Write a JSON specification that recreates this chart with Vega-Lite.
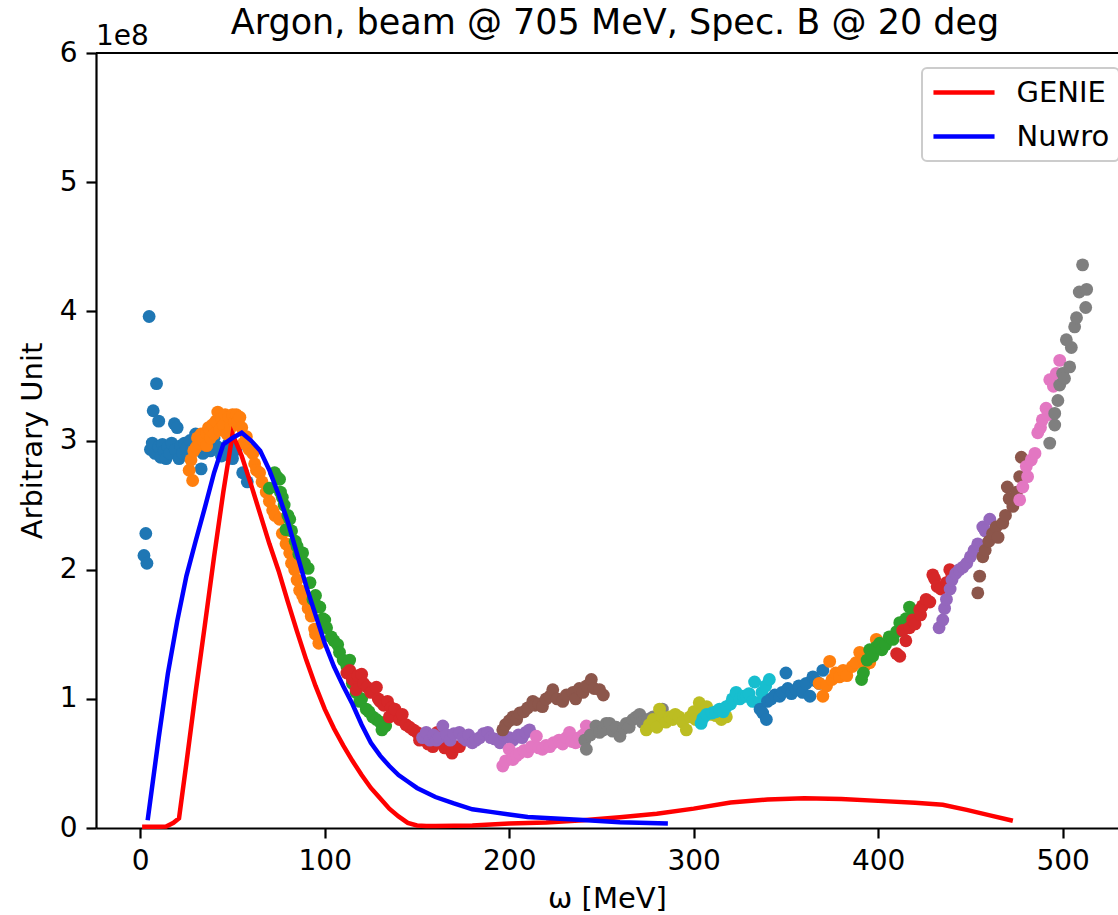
{
"$schema": "https://vega.github.io/schema/vega-lite/v6.json",
"width": 1022, "height": 775,
"autosize": {"type": "none"},
"padding": {"left": 96, "top": 53, "right": 0, "bottom": 87},
"background": "white",
"title": {"text": "Argon, beam @ 705 MeV, Spec. B @ 20 deg", "fontSize": 35, "font": "DejaVu Sans", "fontWeight": "normal", "color": "black", "anchor": "middle", "frame": "group", "baseline": "alphabetic", "offset": -46, "dx": 8},
"datasets": {
"pts": [
{"s":1,"x":2,"y":2.11},{"s":1,"x":3,"y":2.28},{"s":1,"x":3.6,"y":2.05},{"s":1,"x":4.8,"y":3.96},{"s":1,"x":5.5,"y":2.93},{"s":1,"x":7,"y":3.23},{"s":1,"x":8.8,"y":3.44},{"s":1,"x":10,"y":3.15},{"s":1,"x":6.5,"y":2.98},{"s":1,"x":8,"y":2.9},{"s":1,"x":10,"y":2.95},{"s":1,"x":11,"y":2.87},{"s":1,"x":12,"y":2.97},{"s":1,"x":13,"y":2.92},{"s":1,"x":14,"y":2.86},{"s":1,"x":15,"y":2.95},{"s":1,"x":16,"y":2.9},{"s":1,"x":17,"y":2.98},{"s":1,"x":18.5,"y":3.13},{"s":1,"x":20,"y":3.1},{"s":1,"x":19,"y":2.93},{"s":1,"x":21,"y":2.86},{"s":1,"x":22,"y":2.96},{"s":1,"x":23,"y":2.9},{"s":1,"x":24,"y":2.98},{"s":1,"x":25,"y":2.94},{"s":1,"x":26,"y":2.88},{"s":1,"x":27,"y":3.0},{"s":1,"x":28,"y":2.93},{"s":1,"x":30,"y":3.05},{"s":1,"x":31,"y":2.95},{"s":1,"x":33,"y":2.78},{"s":1,"x":34,"y":2.9},{"s":1,"x":36,"y":2.98},{"s":1,"x":38,"y":2.92},{"s":1,"x":40,"y":3.02},{"s":1,"x":42,"y":2.95},{"s":1,"x":44,"y":2.88},{"s":1,"x":46.5,"y":2.9},{"s":1,"x":48,"y":2.98},{"s":1,"x":50,"y":2.86},{"s":1,"x":52,"y":2.93},{"s":1,"x":55.5,"y":2.75},{"s":1,"x":58,"y":2.68},
{"s":2,"x":26.5,"y":2.77},{"s":2,"x":28.4,"y":2.69},{"s":2,"x":27.5,"y":2.85},{"s":2,"x":29,"y":2.92},{"s":2,"x":30.4,"y":2.95},{"s":2,"x":31,"y":3.02},{"s":2,"x":32,"y":2.98},{"s":2,"x":33,"y":3.05},{"s":2,"x":34,"y":3.0},{"s":2,"x":35.8,"y":3.06},{"s":2,"x":36,"y":2.96},{"s":2,"x":37,"y":3.1},{"s":2,"x":38,"y":3.02},{"s":2,"x":39,"y":3.12},{"s":2,"x":40,"y":3.05},{"s":2,"x":41,"y":3.15},{"s":2,"x":42,"y":3.22},{"s":2,"x":43,"y":3.08},{"s":2,"x":44,"y":3.17},{"s":2,"x":45,"y":3.12},{"s":2,"x":46,"y":3.2},{"s":2,"x":47,"y":3.05},{"s":2,"x":48,"y":3.18},{"s":2,"x":49,"y":3.1},{"s":2,"x":50,"y":3.2},{"s":2,"x":51,"y":3.14},{"s":2,"x":52,"y":3.2},{"s":2,"x":53,"y":3.15},{"s":2,"x":54,"y":3.18},{"s":2,"x":55,"y":3.1},{"s":2,"x":56,"y":2.98},{"s":2,"x":57.5,"y":3.03},{"s":2,"x":59,"y":2.93},{"s":2,"x":61,"y":2.9},{"s":2,"x":62,"y":2.82},{"s":2,"x":63,"y":2.77},{"s":2,"x":64.7,"y":2.75},{"s":2,"x":66,"y":2.68},{"s":2,"x":68.3,"y":2.6},{"s":2,"x":70,"y":2.53},{"s":2,"x":71.8,"y":2.46},{"s":2,"x":73,"y":2.42},{"s":2,"x":75.5,"y":2.39},{"s":2,"x":77,"y":2.28},{"s":2,"x":79,"y":2.2},{"s":2,"x":81,"y":2.13},{"s":2,"x":82,"y":2.05},{"s":2,"x":83.7,"y":2.0},{"s":2,"x":85,"y":1.92},{"s":2,"x":86.4,"y":1.84},{"s":2,"x":88,"y":1.8},{"s":2,"x":89,"y":1.77},{"s":2,"x":91,"y":1.7},{"s":2,"x":92.7,"y":1.64},{"s":2,"x":94.5,"y":1.54},{"s":2,"x":95,"y":1.5},{"s":2,"x":96.8,"y":1.43},
{"s":3,"x":70,"y":2.63},{"s":3,"x":72.8,"y":2.75},{"s":3,"x":74,"y":2.72},{"s":3,"x":75.5,"y":2.7},{"s":3,"x":76,"y":2.6},{"s":3,"x":77,"y":2.56},{"s":3,"x":78,"y":2.5},{"s":3,"x":79,"y":2.31},{"s":3,"x":80,"y":2.42},{"s":3,"x":81,"y":2.39},{"s":3,"x":82,"y":2.3},{"s":3,"x":84,"y":2.22},{"s":3,"x":85,"y":2.18},{"s":3,"x":86,"y":2.12},{"s":3,"x":88,"y":2.13},{"s":3,"x":89,"y":2.05},{"s":3,"x":91,"y":2.01},{"s":3,"x":92,"y":1.9},{"s":3,"x":93.6,"y":1.77},{"s":3,"x":95,"y":1.8},{"s":3,"x":96,"y":1.72},{"s":3,"x":97.3,"y":1.71},{"s":3,"x":99,"y":1.62},{"s":3,"x":100,"y":1.61},{"s":3,"x":101,"y":1.55},{"s":3,"x":103.5,"y":1.48},{"s":3,"x":105,"y":1.45},{"s":3,"x":107,"y":1.42},{"s":3,"x":108,"y":1.36},{"s":3,"x":110,"y":1.3},{"s":3,"x":112,"y":1.25},{"s":3,"x":113.5,"y":1.3},{"s":3,"x":115,"y":1.12},{"s":3,"x":117,"y":1.05},{"s":3,"x":119,"y":0.98},{"s":3,"x":120,"y":1.0},{"s":3,"x":122.5,"y":0.92},{"s":3,"x":124,"y":0.9},{"s":3,"x":126,"y":0.86},{"s":3,"x":128,"y":0.84},{"s":3,"x":130,"y":0.82},{"s":3,"x":131,"y":0.76},{"s":3,"x":133,"y":0.79},
{"s":4,"x":112,"y":1.2},{"s":4,"x":113.5,"y":1.22},{"s":4,"x":115,"y":1.15},{"s":4,"x":117,"y":1.07},{"s":4,"x":118,"y":1.18},{"s":4,"x":120,"y":1.19},{"s":4,"x":121,"y":1.12},{"s":4,"x":123,"y":1.09},{"s":4,"x":125,"y":1.05},{"s":4,"x":128,"y":1.09},{"s":4,"x":129,"y":1.0},{"s":4,"x":130,"y":0.98},{"s":4,"x":132,"y":0.95},{"s":4,"x":134,"y":0.98},{"s":4,"x":135,"y":0.86},{"s":4,"x":136,"y":0.93},{"s":4,"x":138,"y":0.92},{"s":4,"x":140.5,"y":0.84},{"s":4,"x":142,"y":0.88},{"s":4,"x":144,"y":0.8},{"s":4,"x":146,"y":0.78},{"s":4,"x":148,"y":0.76},{"s":4,"x":150,"y":0.74},{"s":4,"x":151.4,"y":0.68},{"s":4,"x":153,"y":0.72},{"s":4,"x":156,"y":0.65},{"s":4,"x":158.6,"y":0.63},{"s":4,"x":161,"y":0.74},{"s":4,"x":163,"y":0.66},{"s":4,"x":165,"y":0.62},{"s":4,"x":167.7,"y":0.61},{"s":4,"x":169,"y":0.58},{"s":4,"x":171,"y":0.63},{"s":4,"x":173,"y":0.63},
{"s":5,"x":153,"y":0.7},{"s":5,"x":155,"y":0.74},{"s":5,"x":157,"y":0.68},{"s":5,"x":159,"y":0.72},{"s":5,"x":160.5,"y":0.68},{"s":5,"x":162,"y":0.7},{"s":5,"x":164,"y":0.79},{"s":5,"x":166,"y":0.72},{"s":5,"x":168,"y":0.68},{"s":5,"x":170,"y":0.73},{"s":5,"x":173,"y":0.74},{"s":5,"x":175,"y":0.7},{"s":5,"x":176.7,"y":0.68},{"s":5,"x":178,"y":0.72},{"s":5,"x":180,"y":0.66},{"s":5,"x":182,"y":0.68},{"s":5,"x":184,"y":0.7},{"s":5,"x":186,"y":0.73},{"s":5,"x":188.4,"y":0.74},{"s":5,"x":190,"y":0.7},{"s":5,"x":192,"y":0.69},{"s":5,"x":195,"y":0.66},{"s":5,"x":197,"y":0.72},{"s":5,"x":200,"y":0.7},{"s":5,"x":202,"y":0.68},{"s":5,"x":205,"y":0.72},{"s":5,"x":207,"y":0.7},{"s":5,"x":209,"y":0.74},{"s":5,"x":211,"y":0.76},
{"s":6,"x":196.5,"y":0.76},{"s":6,"x":198,"y":0.8},{"s":6,"x":200,"y":0.83},{"s":6,"x":202,"y":0.86},{"s":6,"x":204,"y":0.84},{"s":6,"x":205.7,"y":0.89},{"s":6,"x":208,"y":0.9},{"s":6,"x":210,"y":0.93},{"s":6,"x":212.8,"y":0.98},{"s":6,"x":214,"y":0.95},{"s":6,"x":216,"y":0.96},{"s":6,"x":218,"y":0.94},{"s":6,"x":220,"y":1.0},{"s":6,"x":222,"y":1.02},{"s":6,"x":223.6,"y":1.07},{"s":6,"x":226,"y":1.0},{"s":6,"x":229,"y":0.98},{"s":6,"x":231,"y":1.03},{"s":6,"x":234.6,"y":1.05},{"s":6,"x":236,"y":1.0},{"s":6,"x":238,"y":1.08},{"s":6,"x":240,"y":1.05},{"s":6,"x":242,"y":1.1},{"s":6,"x":244.5,"y":1.15},{"s":6,"x":246,"y":1.08},{"s":6,"x":249,"y":1.07},{"s":6,"x":251,"y":1.03},
{"s":7,"x":196.5,"y":0.48},{"s":7,"x":198,"y":0.52},{"s":7,"x":200,"y":0.61},{"s":7,"x":202,"y":0.53},{"s":7,"x":204,"y":0.56},{"s":7,"x":205.7,"y":0.58},{"s":7,"x":208,"y":0.6},{"s":7,"x":210,"y":0.59},{"s":7,"x":212,"y":0.63},{"s":7,"x":214.7,"y":0.71},{"s":7,"x":216,"y":0.62},{"s":7,"x":218,"y":0.61},{"s":7,"x":220,"y":0.64},{"s":7,"x":222,"y":0.63},{"s":7,"x":224,"y":0.66},{"s":7,"x":227,"y":0.68},{"s":7,"x":229,"y":0.65},{"s":7,"x":231,"y":0.7},{"s":7,"x":232.7,"y":0.74},{"s":7,"x":234,"y":0.67},{"s":7,"x":236,"y":0.66},{"s":7,"x":238,"y":0.7},{"s":7,"x":240,"y":0.72},{"s":7,"x":241.8,"y":0.79},{"s":7,"x":243.6,"y":0.74},
{"s":8,"x":241,"y":0.68},{"s":8,"x":241.8,"y":0.61},{"s":8,"x":244,"y":0.72},{"s":8,"x":247,"y":0.79},{"s":8,"x":249,"y":0.74},{"s":8,"x":251,"y":0.76},{"s":8,"x":252.6,"y":0.81},{"s":8,"x":254.4,"y":0.81},{"s":8,"x":256,"y":0.75},{"s":8,"x":258,"y":0.78},{"s":8,"x":260,"y":0.71},{"s":8,"x":262,"y":0.77},{"s":8,"x":263.5,"y":0.81},{"s":8,"x":265,"y":0.78},{"s":8,"x":267,"y":0.84},{"s":8,"x":269,"y":0.86},{"s":8,"x":270.7,"y":0.88},{"s":8,"x":272,"y":0.82},{"s":8,"x":275,"y":0.84},{"s":8,"x":278,"y":0.86},{"s":8,"x":280,"y":0.85},{"s":8,"x":283,"y":0.92},
{"s":9,"x":274.3,"y":0.76},{"s":9,"x":276,"y":0.8},{"s":9,"x":278,"y":0.84},{"s":9,"x":280,"y":0.78},{"s":9,"x":281.5,"y":0.92},{"s":9,"x":283,"y":0.86},{"s":9,"x":285,"y":0.82},{"s":9,"x":287,"y":0.86},{"s":9,"x":288.6,"y":0.84},{"s":9,"x":290,"y":0.88},{"s":9,"x":292,"y":0.86},{"s":9,"x":294,"y":0.82},{"s":9,"x":296,"y":0.76},{"s":9,"x":298,"y":0.86},{"s":9,"x":300,"y":0.9},{"s":9,"x":301,"y":0.84},{"s":9,"x":303,"y":0.97},{"s":9,"x":305,"y":0.9},{"s":9,"x":307,"y":0.94},{"s":9,"x":309,"y":0.88},{"s":9,"x":312,"y":0.87},{"s":9,"x":315,"y":0.84},{"s":9,"x":317.7,"y":0.86},
{"s":10,"x":304,"y":0.81},{"s":10,"x":305,"y":0.85},{"s":10,"x":307,"y":0.88},{"s":10,"x":310,"y":0.89},{"s":10,"x":312,"y":0.9},{"s":10,"x":314,"y":0.92},{"s":10,"x":316,"y":0.9},{"s":10,"x":317.7,"y":0.94},{"s":10,"x":320,"y":0.96},{"s":10,"x":321,"y":1.0},{"s":10,"x":323,"y":1.05},{"s":10,"x":325,"y":1.0},{"s":10,"x":327,"y":1.02},{"s":10,"x":328.5,"y":1.02},{"s":10,"x":330,"y":1.04},{"s":10,"x":332,"y":0.98},{"s":10,"x":333,"y":1.13},{"s":10,"x":335.8,"y":0.97},{"s":10,"x":337,"y":1.05},{"s":10,"x":339,"y":1.1},{"s":10,"x":341,"y":1.15},
{"s":11,"x":336,"y":0.92},{"s":11,"x":337.4,"y":0.89},{"s":11,"x":339.4,"y":0.84},{"s":11,"x":340,"y":0.98},{"s":11,"x":342,"y":1.0},{"s":11,"x":344,"y":1.03},{"s":11,"x":346.6,"y":1.02},{"s":11,"x":348,"y":1.05},{"s":11,"x":350,"y":1.2},{"s":11,"x":351,"y":1.08},{"s":11,"x":353,"y":1.04},{"s":11,"x":355.6,"y":1.07},{"s":11,"x":357,"y":1.1},{"s":11,"x":359,"y":1.05},{"s":11,"x":361,"y":1.12},{"s":11,"x":363,"y":1.02},{"s":11,"x":364.6,"y":1.17},{"s":11,"x":366,"y":1.14},{"s":11,"x":368,"y":1.12},{"s":11,"x":370,"y":1.22},
{"s":12,"x":368,"y":1.12},{"s":12,"x":370,"y":1.02},{"s":12,"x":372,"y":1.1},{"s":12,"x":373.7,"y":1.29},{"s":12,"x":375,"y":1.15},{"s":12,"x":377,"y":1.2},{"s":12,"x":379,"y":1.17},{"s":12,"x":381,"y":1.22},{"s":12,"x":383,"y":1.18},{"s":12,"x":386,"y":1.25},{"s":12,"x":388,"y":1.28},{"s":12,"x":390,"y":1.36},{"s":12,"x":392,"y":1.3},{"s":12,"x":393,"y":1.26},{"s":12,"x":395.4,"y":1.28},{"s":12,"x":397,"y":1.35},{"s":12,"x":399,"y":1.46},
{"s":13,"x":391,"y":1.15},{"s":13,"x":392,"y":1.2},{"s":13,"x":394,"y":1.3},{"s":13,"x":395.4,"y":1.38},{"s":13,"x":397,"y":1.33},{"s":13,"x":399,"y":1.4},{"s":13,"x":400.8,"y":1.43},{"s":13,"x":402,"y":1.38},{"s":13,"x":404,"y":1.42},{"s":13,"x":406,"y":1.48},{"s":13,"x":408,"y":1.46},{"s":13,"x":410,"y":1.52},{"s":13,"x":411.7,"y":1.59},{"s":13,"x":413,"y":1.55},{"s":13,"x":415,"y":1.62},{"s":13,"x":417,"y":1.71},{"s":13,"x":419,"y":1.68},
{"s":14,"x":410,"y":1.35},{"s":14,"x":411.7,"y":1.33},{"s":14,"x":413.3,"y":1.53},{"s":14,"x":415,"y":1.45},{"s":14,"x":417,"y":1.55},{"s":14,"x":418.7,"y":1.61},{"s":14,"x":420,"y":1.58},{"s":14,"x":422.5,"y":1.69},{"s":14,"x":423,"y":1.65},{"s":14,"x":424,"y":1.72},{"s":14,"x":426,"y":1.77},{"s":14,"x":428,"y":1.75},{"s":14,"x":429.6,"y":1.96},{"s":14,"x":430.6,"y":1.93},{"s":14,"x":432,"y":1.87},{"s":14,"x":434,"y":1.85},{"s":14,"x":437,"y":1.9},{"s":14,"x":438.8,"y":2.0},{"s":14,"x":440,"y":1.95},
{"s":15,"x":433,"y":1.55},{"s":15,"x":435,"y":1.61},{"s":15,"x":436,"y":1.7},{"s":15,"x":437,"y":1.77},{"s":15,"x":439,"y":1.85},{"s":15,"x":440,"y":1.92},{"s":15,"x":442,"y":1.97},{"s":15,"x":444,"y":2.0},{"s":15,"x":446,"y":2.02},{"s":15,"x":448,"y":2.05},{"s":15,"x":450,"y":2.1},{"s":15,"x":452,"y":2.15},{"s":15,"x":454,"y":2.2},{"s":15,"x":456.7,"y":2.33},{"s":15,"x":458,"y":2.3},{"s":15,"x":460.5,"y":2.39},
{"s":16,"x":454,"y":1.82},{"s":16,"x":455,"y":1.95},{"s":16,"x":456.7,"y":2.1},{"s":16,"x":458,"y":2.15},{"s":16,"x":460,"y":2.22},{"s":16,"x":462,"y":2.28},{"s":16,"x":464,"y":2.33},{"s":16,"x":465,"y":2.25},{"s":16,"x":467.5,"y":2.36},{"s":16,"x":469,"y":2.42},{"s":16,"x":470,"y":2.64},{"s":16,"x":471,"y":2.55},{"s":16,"x":473,"y":2.49},{"s":16,"x":475,"y":2.6},{"s":16,"x":476.7,"y":2.72},{"s":16,"x":477.6,"y":2.87},
{"s":17,"x":476.7,"y":2.54},{"s":17,"x":478.4,"y":2.64},{"s":17,"x":480.3,"y":2.8},{"s":17,"x":481,"y":2.72},{"s":17,"x":483,"y":2.85},{"s":17,"x":485,"y":2.9},{"s":17,"x":486.5,"y":3.06},{"s":17,"x":488,"y":3.1},{"s":17,"x":489,"y":3.16},{"s":17,"x":491,"y":3.25},{"s":17,"x":492,"y":3.2},{"s":17,"x":493,"y":3.47},{"s":17,"x":495,"y":3.42},{"s":17,"x":496.6,"y":3.52},{"s":17,"x":498.4,"y":3.62},
{"s":18,"x":493,"y":2.98},{"s":18,"x":495.7,"y":3.12},{"s":18,"x":495.7,"y":3.21},{"s":18,"x":497.4,"y":3.31},{"s":18,"x":498.4,"y":3.43},{"s":18,"x":500,"y":3.52},{"s":18,"x":501,"y":3.48},{"s":18,"x":503.8,"y":3.57},{"s":18,"x":504.7,"y":3.72},{"s":18,"x":502,"y":3.78},{"s":18,"x":506.5,"y":3.88},{"s":18,"x":507.5,"y":3.95},{"s":18,"x":509,"y":4.15},{"s":18,"x":512.5,"y":4.03},{"s":18,"x":513,"y":4.17},{"s":18,"x":510.8,"y":4.36}
],
"lines": [
{"m":"GENIE","x":1,"y":0.01},{"m":"GENIE","x":5,"y":0.01},{"m":"GENIE","x":10,"y":0.01},{"m":"GENIE","x":14,"y":0.012},{"m":"GENIE","x":18,"y":0.04},{"m":"GENIE","x":21,"y":0.075},{"m":"GENIE","x":25,"y":0.5},{"m":"GENIE","x":30,"y":1.05},{"m":"GENIE","x":35,"y":1.57},{"m":"GENIE","x":40,"y":2.1},{"m":"GENIE","x":45,"y":2.6},{"m":"GENIE","x":50,"y":3.05},{"m":"GENIE","x":55,"y":2.88},{"m":"GENIE","x":60,"y":2.66},{"m":"GENIE","x":65,"y":2.43},{"m":"GENIE","x":70,"y":2.2},{"m":"GENIE","x":75,"y":1.99},{"m":"GENIE","x":80,"y":1.75},{"m":"GENIE","x":85,"y":1.52},{"m":"GENIE","x":90,"y":1.3},{"m":"GENIE","x":95,"y":1.1},{"m":"GENIE","x":100,"y":0.92},{"m":"GENIE","x":105,"y":0.77},{"m":"GENIE","x":110,"y":0.64},{"m":"GENIE","x":115,"y":0.52},{"m":"GENIE","x":120,"y":0.41},{"m":"GENIE","x":125,"y":0.31},{"m":"GENIE","x":130,"y":0.23},{"m":"GENIE","x":135,"y":0.15},{"m":"GENIE","x":140,"y":0.09},{"m":"GENIE","x":145,"y":0.04},{"m":"GENIE","x":150,"y":0.02},{"m":"GENIE","x":155,"y":0.015},{"m":"GENIE","x":160,"y":0.015},{"m":"GENIE","x":180,"y":0.02},{"m":"GENIE","x":200,"y":0.035},{"m":"GENIE","x":220,"y":0.042},{"m":"GENIE","x":240,"y":0.06},{"m":"GENIE","x":260,"y":0.084},{"m":"GENIE","x":280,"y":0.11},{"m":"GENIE","x":300,"y":0.15},{"m":"GENIE","x":320,"y":0.197},{"m":"GENIE","x":340,"y":0.22},{"m":"GENIE","x":360,"y":0.23},{"m":"GENIE","x":380,"y":0.225},{"m":"GENIE","x":400,"y":0.21},{"m":"GENIE","x":420,"y":0.195},{"m":"GENIE","x":435,"y":0.18},{"m":"GENIE","x":448,"y":0.14},{"m":"GENIE","x":460,"y":0.1},{"m":"GENIE","x":473,"y":0.056},
{"m":"Nuwro","x":4,"y":0.06},{"m":"Nuwro","x":10,"y":0.7},{"m":"Nuwro","x":15,"y":1.2},{"m":"Nuwro","x":20,"y":1.6},{"m":"Nuwro","x":25,"y":1.95},{"m":"Nuwro","x":30,"y":2.22},{"m":"Nuwro","x":35,"y":2.48},{"m":"Nuwro","x":40,"y":2.75},{"m":"Nuwro","x":45,"y":2.97},{"m":"Nuwro","x":50,"y":3.02},{"m":"Nuwro","x":55,"y":3.06},{"m":"Nuwro","x":60,"y":3.0},{"m":"Nuwro","x":65,"y":2.92},{"m":"Nuwro","x":70,"y":2.77},{"m":"Nuwro","x":75,"y":2.58},{"m":"Nuwro","x":80,"y":2.37},{"m":"Nuwro","x":85,"y":2.12},{"m":"Nuwro","x":90,"y":1.87},{"m":"Nuwro","x":95,"y":1.65},{"m":"Nuwro","x":100,"y":1.43},{"m":"Nuwro","x":105,"y":1.25},{"m":"Nuwro","x":110,"y":1.1},{"m":"Nuwro","x":115,"y":0.96},{"m":"Nuwro","x":120,"y":0.8},{"m":"Nuwro","x":125,"y":0.66},{"m":"Nuwro","x":130,"y":0.56},{"m":"Nuwro","x":135,"y":0.48},{"m":"Nuwro","x":140,"y":0.41},{"m":"Nuwro","x":145,"y":0.36},{"m":"Nuwro","x":150,"y":0.31},{"m":"Nuwro","x":160,"y":0.24},{"m":"Nuwro","x":170,"y":0.19},{"m":"Nuwro","x":180,"y":0.145},{"m":"Nuwro","x":190,"y":0.125},{"m":"Nuwro","x":200,"y":0.105},{"m":"Nuwro","x":210,"y":0.085},{"m":"Nuwro","x":220,"y":0.078},{"m":"Nuwro","x":240,"y":0.062},{"m":"Nuwro","x":260,"y":0.045},{"m":"Nuwro","x":286,"y":0.034}
]
},
"layer": [
{
"data": {"name": "pts"},
"mark": {"type": "circle", "size": 165, "opacity": 1},
"encoding": {
"x": {"field": "x", "type": "quantitative", "title": "ω [MeV]", "scale": {"domain": [-24, 530], "nice": false, "zero": false}, "axis": {"values": [0, 100, 200, 300, 400, 500], "labelFlush": false, "labelOverlap": false, "titlePadding": 9}},
"y": {"field": "y", "type": "quantitative", "title": "Arbitrary Unit", "scale": {"domain": [0, 6], "nice": false, "zero": false}, "axis": {"values": [0, 1, 2, 3, 4, 5, 6], "format": "d", "labelFlush": false, "labelOverlap": false, "titlePadding": 12}},
"color": {"field": "s", "type": "nominal", "legend": null, "scale": {"domain": [1,2,3,4,5,6,7,8,9,10,11,12,13,14,15,16,17,18], "range": ["#1f77b4","#ff7f0e","#2ca02c","#d62728","#9467bd","#8c564b","#e377c2","#7f7f7f","#bcbd22","#17becf","#1f77b4","#ff7f0e","#2ca02c","#d62728","#9467bd","#8c564b","#e377c2","#7f7f7f"]}}
}
},
{
"data": {"name": "lines"},
"mark": {"type": "line", "strokeWidth": 4.5},
"encoding": {
"x": {"field": "x", "type": "quantitative", "title": "ω [MeV]"},
"y": {"field": "y", "type": "quantitative", "title": "Arbitrary Unit"},
"color": {"field": "m", "type": "nominal", "scale": {"domain": ["GENIE", "Nuwro"], "range": ["#ff0000", "#0000ff"]}, "legend": {"title": null, "orient": "none", "legendX": 826, "legendY": 15}}
}
},
{
"data": {"values": [{}]},
"mark": {"type": "rule", "color": "black", "strokeWidth": 2.2},
"encoding": {"y": {"datum": 6, "type": "quantitative", "title": "Arbitrary Unit"}}
},
{
"data": {"values": [{}]},
"mark": {"type": "text", "text": "1e8", "font": "DejaVu Sans", "fontSize": 28, "color": "black", "align": "left", "baseline": "alphabetic", "dy": -8},
"encoding": {"x": {"datum": -24, "type": "quantitative", "title": "ω [MeV]"}, "y": {"datum": 6, "type": "quantitative", "title": "Arbitrary Unit"}}
}
],
"resolve": {"scale": {"color": "independent"}},
"config": {
"view": {"stroke": null},
"font": "DejaVu Sans",
"axis": {"grid": false, "labelFont": "DejaVu Sans", "labelFontSize": 28, "labelColor": "black", "tickColor": "black", "domainColor": "black", "tickWidth": 2.2, "domainWidth": 2.2, "tickSize": 10, "labelPadding": 9, "titleFont": "DejaVu Sans", "titleFontSize": 29, "titleFontWeight": "normal", "titleColor": "black"},
"legend": {"labelFont": "DejaVu Sans", "labelFontSize": 29, "labelColor": "black", "symbolType": "M-2.35,0H2.35", "symbolSize": 676, "symbolStrokeWidth": 4.5, "symbolOffset": 17.5, "labelOffset": 37, "rowPadding": 13, "padding": 9, "strokeColor": "#cccccc", "fillColor": "rgba(255,255,255,0.8)", "cornerRadius": 5, "strokeWidth": 2}
}
}
